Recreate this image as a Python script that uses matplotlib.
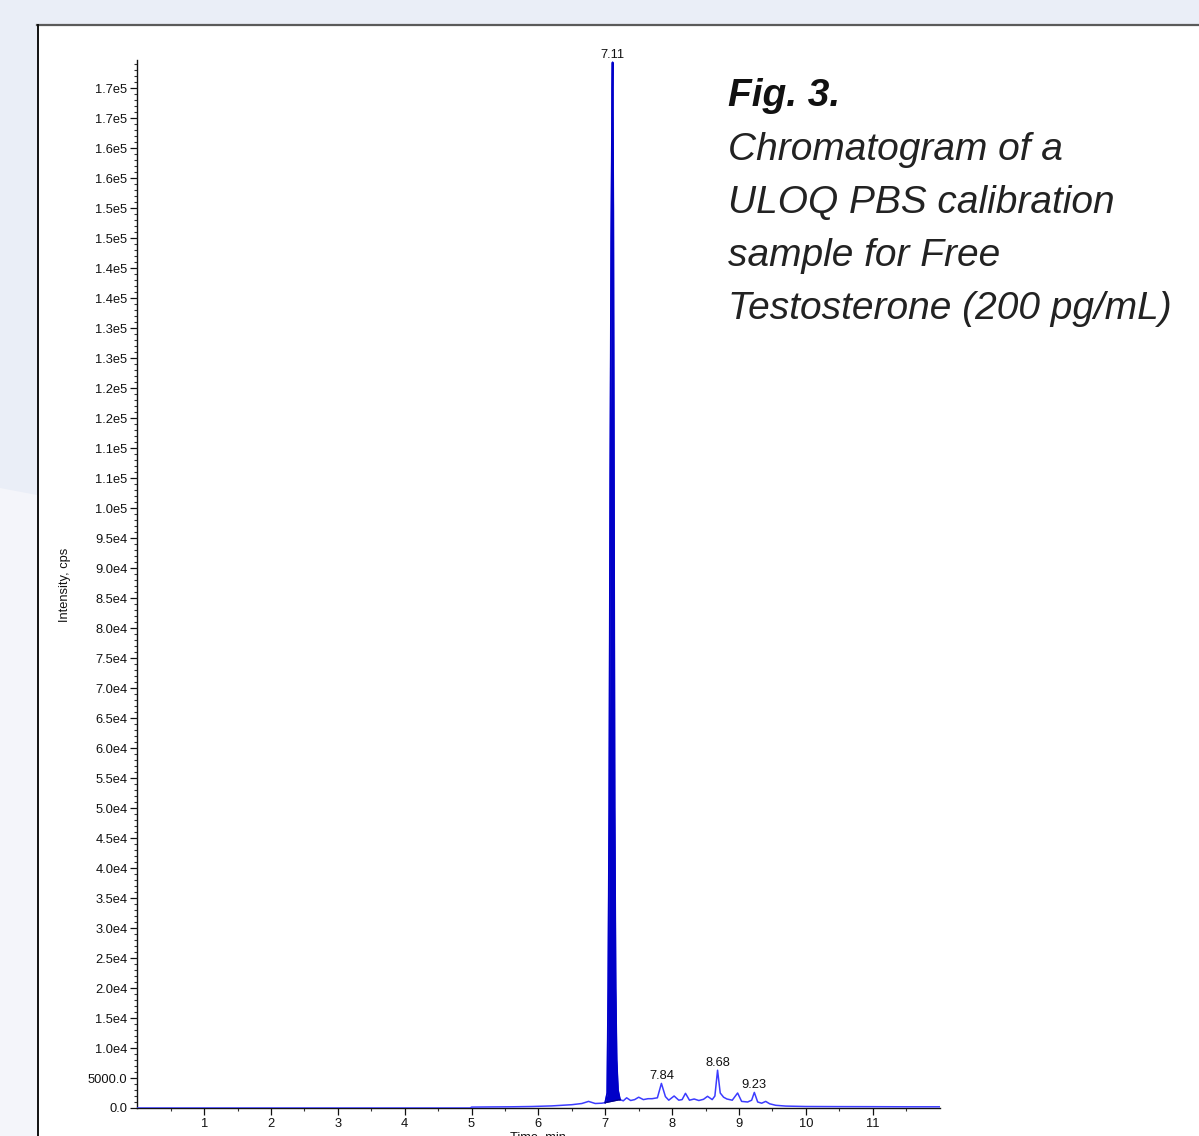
import numpy as np
import matplotlib
matplotlib.use("Agg")
import matplotlib.pyplot as plt
from matplotlib.patches import Rectangle, Polygon
from matplotlib.lines import Line2D

# ---------------- data ----------------
time_min = [0.00, 4.98, 5.00, 5.30, 5.60, 5.90, 6.20, 6.50, 6.65, 6.75, 6.85, 6.95,
            7.00, 7.03, 7.045, 7.06, 7.075, 7.09, 7.105, 7.11, 7.12, 7.13, 7.14, 7.155,
            7.17, 7.19, 7.22, 7.27, 7.32, 7.38, 7.44, 7.50, 7.57, 7.64, 7.70, 7.78,
            7.84, 7.90, 7.95, 8.03, 8.10, 8.15, 8.20, 8.26, 8.33, 8.40, 8.47, 8.53,
            8.60, 8.64, 8.68, 8.72, 8.77, 8.82, 8.90, 8.98, 9.04, 9.13, 9.19, 9.23,
            9.28, 9.34, 9.40, 9.46, 9.55, 9.70, 10.0, 10.5, 11.0, 11.5, 12.0]
intensity_cps = [0, 0, 150, 180, 200, 250, 350, 550, 750, 1100, 750, 800,
                 900, 2500, 20000, 50000, 105000, 145000, 170000, 174300, 150000, 100000, 50000, 20000,
                 8000, 3000, 1400, 1200, 1700, 1250, 1400, 1800, 1400, 1550, 1550, 1700,
                 4100, 1900, 1300, 2000, 1300, 1400, 2450, 1300, 1500, 1250, 1450, 1950,
                 1400, 2000, 6300, 2500, 1800, 1500, 1300, 2500, 1100, 1000, 1300, 2600,
                 1000, 800, 1100, 700, 450, 320, 250, 230, 220, 200, 200]

# integrated peak region and its baseline end points
peak_start, peak_end = 7.00, 7.22
base_start_val, base_end_val = 900, 1400

# labelled peaks
peak_labels = ["7.11", "7.84", "8.68", "9.23"]
peak_times = [7.11, 7.84, 8.68, 9.23]
peak_heights = [174300, 4100, 6300, 2600]

x_ticks = [1, 2, 3, 4, 5, 6, 7, 8, 9, 10, 11]
y_tick_values = [0, 5000, 10000, 15000, 20000, 25000, 30000, 35000, 40000, 45000, 50000,
                 55000, 60000, 65000, 70000, 75000, 80000, 85000, 90000, 95000, 100000,
                 105000, 110000, 115000, 120000, 125000, 130000, 135000, 140000, 145000,
                 150000, 155000, 160000, 165000, 170000]
y_tick_labels = ["0.0", "5000.0", "1.0e4", "1.5e4", "2.0e4", "2.5e4", "3.0e4", "3.5e4",
                 "4.0e4", "4.5e4", "5.0e4", "5.5e4", "6.0e4", "6.5e4", "7.0e4", "7.5e4",
                 "8.0e4", "8.5e4", "9.0e4", "9.5e4", "1.0e5", "1.1e5", "1.1e5", "1.2e5",
                 "1.2e5", "1.3e5", "1.3e5", "1.4e5", "1.4e5", "1.5e5", "1.5e5", "1.6e5",
                 "1.6e5", "1.7e5", "1.7e5"]

caption_title = "Fig. 3."
caption_lines = ["Chromatogram of a", "ULOQ PBS calibration", "sample for Free",
                 "Testosterone (200 pg/mL)"]

# ---------------- figure ----------------
W, H = 1199, 1136
fig = plt.figure(figsize=(W / 100, H / 100), dpi=100, facecolor="#eaeef7")

def fx(px):
    return px / W

def fy(py):
    return 1 - py / H

# lighter background region at lower left
fig.patches.append(Polygon([(fx(0), fy(488)), (fx(37), fy(495)), (fx(37), fy(1136)), (fx(0), fy(1136))],
                           closed=True, transform=fig.transFigure, facecolor="#f4f5fa",
                           edgecolor="none", zorder=-3))
# white panel
fig.patches.append(Rectangle((fx(37), 0), 1 - fx(37), fy(25), transform=fig.transFigure,
                             facecolor="white", edgecolor="none", zorder=-3))
fig.lines.append(Line2D([fx(37), 1], [fy(24.5), fy(24.5)], transform=fig.transFigure,
                        color="#5a5a5a", lw=1.6, zorder=-2))
fig.lines.append(Line2D([fx(37.5), fx(37.5)], [0, fy(24.5)], transform=fig.transFigure,
                        color="#111111", lw=1.4, zorder=-2))

# axes
x0, x1 = 137.3, 939.5
y0, y1 = 1108, 60
ax = fig.add_axes([fx(x0), fy(y0), (x1 - x0) / W, (y0 - y1) / H])
ax.set_zorder(1)
ax.set_facecolor("none")
ax.set_xlim(0, 12)
ax.set_ylim(0, 174700)

t = np.array(time_min)
v = np.array(intensity_cps)

# full trace
ax.plot(t, v, color="#3c3cff", lw=1.1, zorder=3, solid_joinstyle="round")

# integrated peak (filled)
mask = (t >= peak_start) & (t <= peak_end)
tp, vp = t[mask], v[mask]
base = np.interp(tp, [peak_start, peak_end], [base_start_val, base_end_val])
ax.fill_between(tp, base, vp, color="#0000c8", lw=0, zorder=4)
ax.plot(tp, vp, color="#0000c8", lw=1.3, zorder=5)
ax.plot([peak_start, peak_end], [base_start_val, base_end_val], color="#00008a", lw=1.0, zorder=5)

# peak labels
for lab, pt, ph in zip(peak_labels, peak_times, peak_heights):
    ax.annotate(lab, (pt, ph), xytext=(0, 0.8), textcoords="offset points",
                ha="center", va="bottom", fontsize=9.3, family="Liberation Sans", color="#111111")

# spines
for s in ["top", "right"]:
    ax.spines[s].set_visible(False)
for s in ["left", "bottom"]:
    ax.spines[s].set_color("#111111")
    ax.spines[s].set_linewidth(1.0)

ax.set_xticks(x_ticks)
ax.set_xticklabels([str(x) for x in x_ticks])
ax.set_xticks(np.arange(0.5, 12, 1.0), minor=True)
ax.set_yticks(y_tick_values)
ax.set_yticklabels(y_tick_labels)
ax.set_yticks(np.arange(0, 174700, 1000), minor=True)

ax.tick_params(axis="both", which="major", direction="out", length=5, width=0.9,
               color="#111111", labelsize=9.3, labelcolor="#111111", pad=2)
ax.tick_params(axis="both", which="minor", direction="out", length=2.5, width=0.8,
               color="#333333")
for lab in ax.get_xticklabels() + ax.get_yticklabels():
    lab.set_family("Liberation Sans")

ax.set_xlabel("Time, min", fontsize=9.3, family="Liberation Sans", color="#111111")
ax.xaxis.set_label_coords(0.5, -24 / (y0 - y1))
ax.set_ylabel("Intensity, cps", fontsize=9.3, family="Liberation Sans", color="#111111")
ax.yaxis.label.set_verticalalignment("center")
ax.yaxis.set_label_coords((65 - x0) / (x1 - x0), (y0 - 585) / (y0 - y1))

# caption text
fig.text(fx(728), fy(106), caption_title, fontsize=28, family="Liberation Sans",
         style="italic", weight="bold", color="#111111", va="baseline", ha="left")
baselines = [160, 213, 266, 319]
for line, b in zip(caption_lines, baselines):
    fig.text(fx(728), fy(b), line, fontsize=28, family="Liberation Sans", style="italic",
             weight="normal", color="#222222", va="baseline", ha="left")

fig.savefig("out.png", dpi=100, facecolor=fig.get_facecolor())
